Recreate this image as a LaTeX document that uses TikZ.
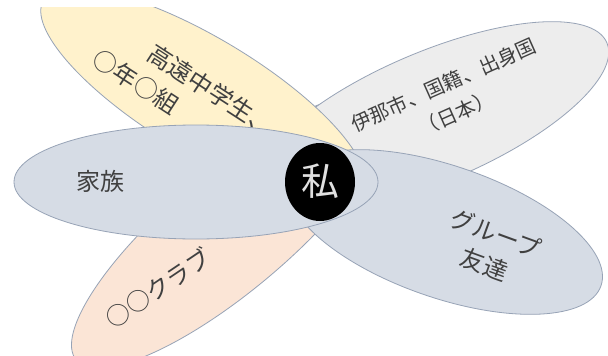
\documentclass[tikz,border=0pt]{standalone}
\usepackage{fontspec}
\newfontfamily\jp{Noto Sans CJK JP}
\usetikzlibrary{shapes.geometric}
\definecolor{cyellow}{HTML}{FFF2CC}
\definecolor{cgray}{HTML}{EDEDED}
\definecolor{corange}{HTML}{FBE5D6}
\definecolor{cblue}{HTML}{D6DCE5}
\definecolor{cline}{HTML}{97A3B6}
\definecolor{ctext}{HTML}{404040}
\begin{document}
\begin{tikzpicture}[x=1pt,y=-1pt,
  petal/.style={ellipse, draw=cline, line width=0.8pt, inner sep=0pt},
  lbl/.style={font=\jp\fontsize{24}{33}\selectfont, text=ctext, align=center, inner sep=0pt},
  slbl/.style={font=\jp\fontsize{20}{31}\selectfont, text=ctext, align=center, inner sep=0pt}]
\useasboundingbox (0,0) rectangle (608,356);
\fill[white] (0,0) rectangle (608,356);
\begin{scope}
\clip (0,7) rectangle (608,356);
\node[petal, fill=corange, minimum width=400, minimum height=120, rotate=40] (orange) at (229.5,231.5) {};
\node[lbl, rotate=34] (oranget) at (158,288) {○○クラブ};
\node[petal, fill=cgray, minimum width=380, minimum height=130, rotate=23] (gray) at (432,117) {};
\node[slbl, rotate=24] (grayt) at (450,99) {伊那市、国籍、出身国\\（日本）};
\node[petal, fill=cyellow, minimum width=372, minimum height=116, rotate=-31] (yellow) at (203,96) {};
\node[lbl, rotate=-33] (yel1) at (211,90) {高遠中学生、};
\node[lbl, rotate=-33] (yel2) at (136,82) {○年○組};
\node[petal, fill=cblue, minimum width=330, minimum height=132, rotate=-19] (group) at (445,232) {};
\node[lbl, rotate=-20] (groupt) at (490,249) {グループ\\友達};
\node[petal, fill=cblue, minimum width=364, minimum height=114] (family) at (196,182) {};
\node[lbl] (familyt) at (100,181) {家族};
\node[ellipse, fill=black, minimum width=70, minimum height=78, inner sep=0pt] (me) at (320,182) {};
\node[font=\jp\fontsize{38}{40}\selectfont, text=black!12, inner sep=0pt] (met) at (320,181) {私};
\end{scope}
\end{tikzpicture}
\end{document}
